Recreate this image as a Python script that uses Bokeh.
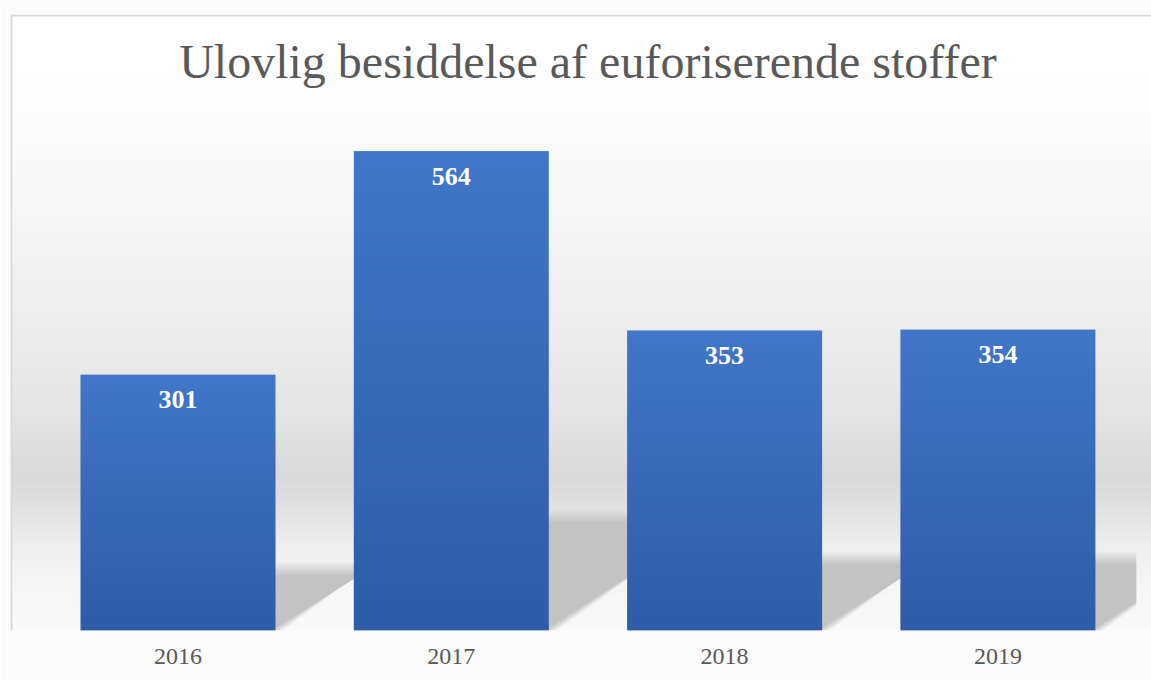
import numpy as np
from bokeh.plotting import figure
from bokeh.models import Range1d, FixedTicker, Span, Label, ColumnDataSource
from bokeh.core.properties import value
from bokeh.embed import file_html
from bokeh.resources import INLINE

# ---------------- data ----------------
TITLE = "Ulovlig besiddelse af euforiserende stoffer"
YEARS = ["2016", "2017", "2018", "2019"]
VALUES = [301, 564, 353, 354]

# ---------------- layout / style constants ----------------
W, H = 1151, 680
PX_PER_CAT = 273.3      # horizontal pixels per category
PX_PER_UNIT = 0.85      # vertical pixels per data unit
FIRST_CENTER_PX = 177.5 # centre of first category, figure px
BASE_PX = 630           # baseline, figure px (from top)
FRAME_LEFT_PX, FRAME_TOP_PX = 10, 14
BAR_W = 0.7135
SHADOW_S = 0.235        # vertical scale of perspective shadow
SHADOW_K = 0.35         # horizontal skew (px per px of bar height)
SERIF = "Liberation Serif"
TEXT_GREY = "#595959"
BAR_TOP = np.array([0x41, 0x76, 0xc8])
BAR_BOT = np.array([0x2e, 0x5c, 0xa8])


def rgba_column(levels_rgb):
    """Build an (n,1) uint32 RGBA image from an (n,3) array of colours."""
    n = len(levels_rgb)
    img = np.zeros((n, 1), dtype=np.uint32)
    v = img.view(dtype=np.uint8).reshape((n, 1, 4))
    v[:, 0, :3] = np.clip(np.round(levels_rgb), 0, 255).astype(np.uint8)
    v[:, 0, 3] = 255
    return img


x_start = (FRAME_LEFT_PX - FIRST_CENTER_PX) / PX_PER_CAT
x_end = (W - FIRST_CENTER_PX) / PX_PER_CAT
y_end = (BASE_PX - FRAME_TOP_PX) / PX_PER_UNIT
clip_x = len(YEARS) - 0.5 + 0.006

p = figure(width=W, height=H, output_backend="svg", toolbar_location=None,
           x_range=Range1d(x_start, x_end), y_range=Range1d(0, y_end),
           y_axis_location=None, tools="")
p.min_border = 0
p.min_border_left = FRAME_LEFT_PX
p.min_border_top = FRAME_TOP_PX
p.min_border_right = 0
p.min_border_bottom = H - BASE_PX
p.outline_line_color = None
p.grid.visible = False
p.background_fill_color = "#fbfbfb"
p.border_fill_color = "#fbfbfb"

# ---------------- background gradient ----------------
stops_px = np.array([14, 100, 200, 300, 400, 477, 510, 545, 580, 630])
stops_g = np.array([255, 253, 247, 239, 230, 217, 226, 239, 245, 250])
rows = np.arange(BASE_PX - FRAME_TOP_PX)
page_y = BASE_PX - rows - 0.5
g = np.interp(page_y, stops_px, stops_g)
bg = rgba_column(np.stack([g, g, g], axis=1))
p.image_rgba(image=[bg], x=x_start, y=0, dw=x_end - x_start, dh=y_end)

# ---------------- shadows ----------------
def clip_poly(xs, ys, c):
    ox, oy = [], []
    n = len(xs)
    for i in range(n):
        x1, y1 = xs[i], ys[i]
        x2, y2 = xs[(i + 1) % n], ys[(i + 1) % n]
        in1, in2 = x1 <= c, x2 <= c
        if in1:
            ox.append(x1); oy.append(y1)
        if in1 != in2:
            t = (c - x1) / (x2 - x1)
            ox.append(c); oy.append(y1 + t * (y2 - y1))
    return ox, oy

xc = np.arange(len(YEARS), dtype=float)
vals = np.array(VALUES, dtype=float)
layers = [(8, 0.14), (6, 0.16), (4, 0.2), (2, 0.25), (0, 0.3), (-2, 0.4), (-4, 1.0)]
for grow, alpha in layers:
    sx, sy = [], []
    ex = grow / PX_PER_CAT
    ey = grow / PX_PER_UNIT
    for x, v in zip(xc, vals):
        h = SHADOW_S * v
        dx = SHADOW_K * v * PX_PER_UNIT / PX_PER_CAT
        x0, x1 = x - BAR_W / 2, x + BAR_W / 2
        px = [x0, x1 + ex, x1 + dx + ex, x0 + dx]
        py = [0, 0, h + ey, h + ey]
        px, py = clip_poly(px, py, clip_x)
        sx.append(px); sy.append(py)
    p.patches(sx, sy, fill_color="#c3c3c3", fill_alpha=alpha, line_color=None)

# ---------------- bars with vertical gradient ----------------
M = 64
t = (np.arange(M) + 0.5) / M
bar_cols = BAR_BOT[None, :] + (BAR_TOP - BAR_BOT)[None, :] * t[:, None]
bar_img = rgba_column(bar_cols)
p.image_rgba(image=[bar_img] * len(VALUES), x=list(xc - BAR_W / 2), y=[0] * len(VALUES),
             dw=[BAR_W] * len(VALUES), dh=list(vals))

# ---------------- data labels ----------------
src = ColumnDataSource(dict(x=xc, y=vals, t=[str(v) for v in VALUES]))
p.text(x="x", y="y", text="t", source=src, text_align="center", text_baseline="alphabetic",
       y_offset=25, text_color="white", text_font=value(SERIF), text_font_style="bold",
       text_font_size="26px")

# ---------------- frame border ----------------
p.add_layout(Span(location=(BASE_PX - FRAME_TOP_PX - 1) / PX_PER_UNIT, dimension="width",
                  line_color="#d9d9d9", line_width=2))
p.add_layout(Span(location=(FRAME_LEFT_PX + 1 - FIRST_CENTER_PX) / PX_PER_CAT, dimension="height",
                  line_color="#d9d9d9", line_width=2))

# ---------------- title ----------------
p.add_layout(Label(x=(len(YEARS) - 1) / 2, y=(BASE_PX - 61) / PX_PER_UNIT, text=TITLE,
                   text_align="center", text_baseline="alphabetic", text_font=SERIF,
                   text_font_size="48px", text_color=TEXT_GREY))

# ---------------- x axis ----------------
ax = p.xaxis[0]
ax.ticker = FixedTicker(ticks=list(xc))
ax.major_label_overrides = {i: y for i, y in enumerate(YEARS)}
ax.axis_line_color = None
ax.major_tick_line_color = None
ax.minor_tick_line_color = None
ax.major_label_standoff = 12
ax.major_label_text_font = SERIF
ax.major_label_text_font_size = "24px"
ax.major_label_text_color = TEXT_GREY

open("out.html", "w").write(file_html(p, INLINE))
